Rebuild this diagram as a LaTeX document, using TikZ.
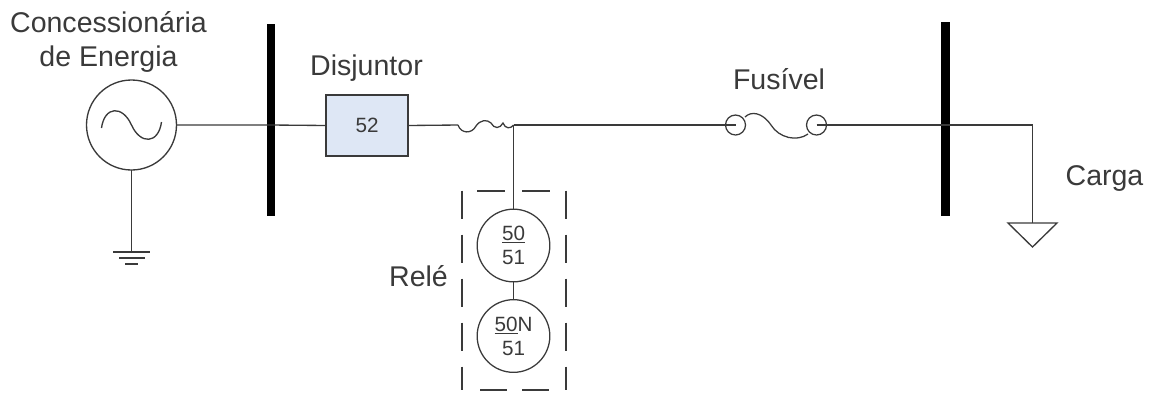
\documentclass[tikz,border=0pt]{standalone}
\usepackage{fontspec}
\setmainfont{Liberation Sans}
\usetikzlibrary{calc}
\definecolor{ink}{HTML}{3A3A3A}
\definecolor{boxblue}{HTML}{DEE7F5}
\tikzset{
  wire/.style={draw=ink,line width=1.2pt},
  thinw/.style={draw=ink,line width=0.95pt},
  busbar/.style={fill=black,draw=none,minimum width=6.6pt,inner sep=0pt,outer sep=0pt,rectangle},
  relay/.style={circle,draw=ink,line width=0.95pt,minimum size=54.5pt,inner sep=0pt,outer sep=0pt,align=center,font=\fontsize{15.5}{18}\selectfont,text=ink},
  lbl/.style={font=\fontsize{21.4}{26}\selectfont,text=ink,inner sep=0pt,align=center},
  fuseend/.style={circle,draw=ink,line width=0.95pt,minimum size=15pt,inner sep=0pt,outer sep=0pt},
  dashside/.style={draw=ink,line width=1.3pt,dash pattern=on 21.5pt off 11.5pt},
  dashflat/.style={draw=ink,line width=1.3pt},
}
\begin{document}
\begin{tikzpicture}[x=0.75pt,y=-0.75pt]
\useasboundingbox (0,0) rectangle (1153,394);
% nodes
\node[circle,draw=ink,line width=1pt,minimum size=67.5pt,inner sep=0pt,outer sep=0pt] (src) at (131.5,125) {};
\node[busbar,minimum height=144pt] (bus1) at (271,120) {};
\node[busbar,minimum height=146pt,minimum width=7.2pt] (bus2) at (945.5,119) {};
\node[rectangle,draw=ink,line width=1.1pt,fill=boxblue,minimum width=61.5pt,minimum height=46pt,inner sep=0pt,outer sep=0pt,font=\fontsize{15.5}{18}\selectfont,text=ink] (cb) at (367,125.5) {52};
\node[relay] (r1) at (513.5,245.5) {\underline{50}\\51};
\node[relay] (r2) at (513.5,336) {\underline{50}N\\51};
\node[fuseend] (f1) at (735.5,125) {};
\node[fuseend] (f2) at (816.5,125) {};
\coordinate (ctl) at (458,125);
\coordinate (ctr) at (513.5,125);
\coordinate (gnd) at (131.5,252);
\coordinate (loadc) at (1032.5,125);
\coordinate (loadt) at (1032.5,223);
\coordinate (b1) at (271,125);
\coordinate (b2) at (945.5,125);
% labels
\node[lbl] (t1) at (108.5,42) {Concessionária\\de Energia};
\node[lbl,anchor=base] (t2) at (366.5,75) {Disjuntor};
\node[lbl,anchor=base] (t3) at (779,89) {Fusível};
\node[lbl,anchor=base] (t4) at (1104.5,185) {Carga};
\node[lbl,anchor=base] (t5) at (418.5,286) {Relé};
% source wave
\draw[thinw,line width=1pt] ($(src.center)+(-30,3)$) .. controls ($(src.center)+(-27,-19)$) and ($(src.center)+(-9,-20)$) .. (src.center)
  .. controls ($(src.center)+(9,20)$) and ($(src.center)+(27,19)$) .. ($(src.center)+(30,-3)$);
% wires
\draw[wire,line width=1pt] (src.east) -- (b1) -- (cb.west);
\draw[wire] (src.south) -- (gnd);
\draw[wire,line width=1.1pt] (113,252) -- (150,252);
\draw[wire] (119,258) -- (145,258);
\draw[wire] (125,264) -- (138,264);
\draw[wire,line width=1pt] (cb.east) -- (ctl);
\draw[thinw] (ctl) .. controls (461,134) and (472,134) .. (476,126)
  .. controls (480,120) and (487,119) .. (491,123)
  .. controls (494,129) and (500,129) .. (503,123)
  .. controls (505,129) and (511,129) .. (ctr);
\draw[wire,line width=1pt] (ctr) -- (f1.center);
\draw[wire] (ctr) -- (r1.north);
\draw[wire] (r1.south) -- (r2.north);
% fuse
\draw[thinw] (745,117) .. controls (751,111) and (762,112) .. (771,125)
  .. controls (779,138) and (797,142) .. (808,134);
\draw[wire] (f2.center) -- (b2);
\draw[wire,line width=1pt] (b2) -- (loadc) -- (loadt);
\draw[thinw,line width=1pt] (1008,223) -- (1057,223) -- (1032.5,247) -- cycle;
% relay box
\draw[dashside] (462,190.7) -- (462,390);
\draw[dashside] (566,190.7) -- (566,390);
\draw[dashflat] (477,191) -- (505,191) (522,191) -- (550,191);
\draw[dashflat] (480,390) -- (507,390) (522,390) -- (549,390);
\end{tikzpicture}
\end{document}
